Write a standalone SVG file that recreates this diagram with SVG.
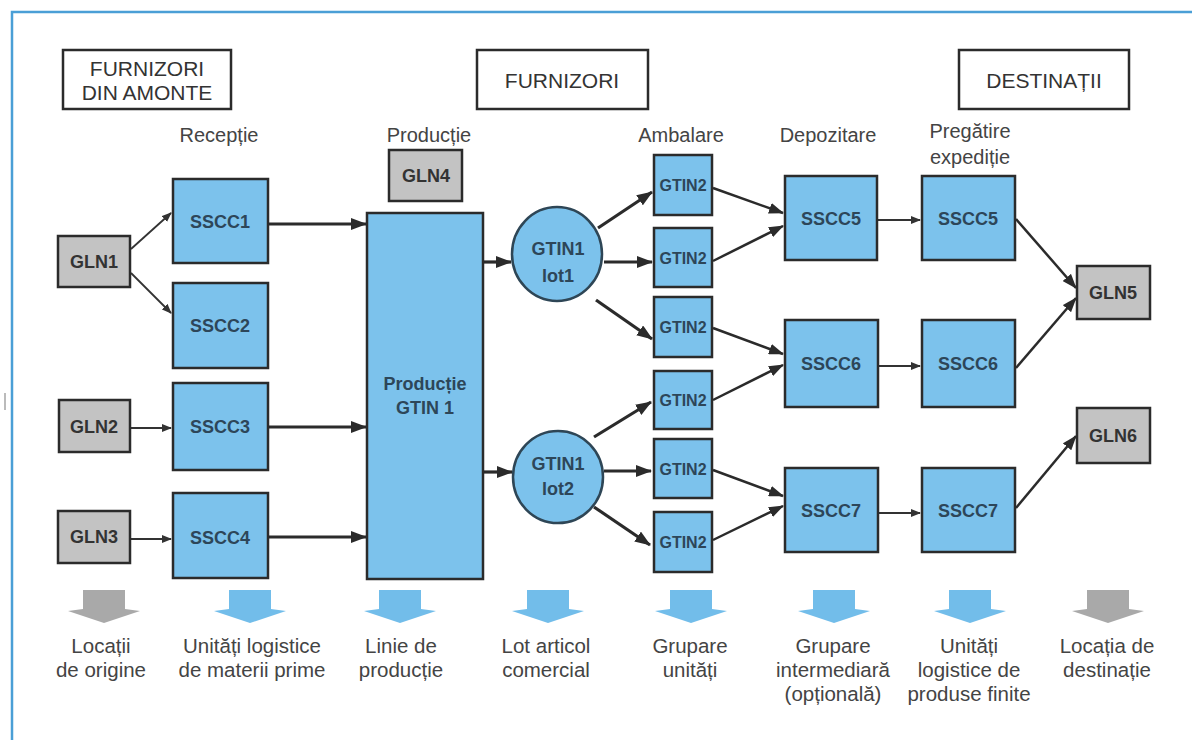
<svg xmlns="http://www.w3.org/2000/svg" width="1192" height="740" viewBox="0 0 1192 740">
<defs>
<style>
.hdr{fill:#fff;stroke:#2b2b2b;stroke-width:2.5}
.htxt{font-family:"Liberation Sans",Arial,sans-serif;font-size:21px;fill:#333;text-anchor:middle}
.stage{font-family:"Liberation Sans",Arial,sans-serif;font-size:20px;fill:#444;text-anchor:middle}
.blue{fill:#7cc2ec;stroke:#2b2b2b;stroke-width:2.5}
.gray{fill:#c3c3c3;stroke:#2b2b2b;stroke-width:2.5}
.circ{fill:#7cc2ec;stroke:#2e4656;stroke-width:2.5}
.ntxt{font-family:"Liberation Sans",Arial,sans-serif;font-size:18px;font-weight:bold;fill:#2d4659;text-anchor:middle}
.gtxt{font-family:"Liberation Sans",Arial,sans-serif;font-size:18px;font-weight:bold;fill:#333;text-anchor:middle}
.stxt{font-family:"Liberation Sans",Arial,sans-serif;font-size:16px;font-weight:bold;fill:#2d4659;text-anchor:middle}
.btxt{font-family:"Liberation Sans",Arial,sans-serif;font-size:20.5px;fill:#444;text-anchor:middle}
.thin{stroke:#333;stroke-width:1.8;fill:none;marker-end:url(#ahs)}
.thick{stroke:#2b2b2b;stroke-width:3.2;fill:none;marker-end:url(#ahl)}
.mid{stroke:#2b2b2b;stroke-width:2.5;fill:none;marker-end:url(#ahm)}
.barB{fill:#72bdea}
.barG{fill:#a9a9a9}
</style>
<marker id="ahl" markerUnits="userSpaceOnUse" markerWidth="16" markerHeight="12" refX="15" refY="6" orient="auto"><path d="M0,0 L16,6 L0,12 z" fill="#2b2b2b"/></marker>
<marker id="ahm" markerUnits="userSpaceOnUse" markerWidth="15" markerHeight="11" refX="14" refY="5.5" orient="auto"><path d="M0,0 L15,5.5 L0,11 z" fill="#2b2b2b"/></marker>
<marker id="ahs" markerUnits="userSpaceOnUse" markerWidth="10" markerHeight="8" refX="9" refY="4" orient="auto"><path d="M0,0 L10,4 L0,8 z" fill="#333"/></marker>
<path id="barShape" d="M-21,0 L21,0 L21,19 L36,21 L0,33 L-36,21 L-21,19 z"/>
</defs>

<rect x="0" y="0" width="1192" height="740" fill="#fff"/>
<path d="M12,740 L12,12 L1192,12" fill="none" stroke="#4a9fd6" stroke-width="2.5"/>
<line x1="5" y1="393" x2="5" y2="410" stroke="#bbb" stroke-width="2"/>

<g id="hdr-amonte"><rect class="hdr" x="63" y="50" width="168" height="59"/><text class="htxt" x="147" y="76">FURNIZORI</text><text class="htxt" x="147" y="100">DIN AMONTE</text></g>
<g id="hdr-furnizori"><rect class="hdr" x="477" y="50" width="171" height="59"/><text class="htxt" x="562" y="88">FURNIZORI</text></g>
<g id="hdr-destinatii"><rect class="hdr" x="959" y="50" width="170" height="59"/><text class="htxt" x="1044" y="88">DESTINAȚII</text></g>

<g id="stage-labels">
<text class="stage" x="219" y="142">Recepție</text>
<text class="stage" x="429" y="142">Producție</text>
<text class="stage" x="681" y="142">Ambalare</text>
<text class="stage" x="828" y="142">Depozitare</text>
<text class="stage" x="970" y="138">Pregătire</text>
<text class="stage" x="970" y="164">expediție</text>
</g>

<g id="connectors">
<path class="thin" d="M131,249 L171,213"/>
<path class="thin" d="M131,273 L171,313"/>
<path class="thin" d="M131,428 L171,428"/>
<path class="thin" d="M131,539 L171,539"/>
<path class="thin" d="M878,220 L920,220"/>
<path class="thin" d="M879,366 L920,366"/>
<path class="thin" d="M879,513 L920,513"/>
<path class="thick" d="M268,224 L366,224"/>
<path class="thick" d="M268,427 L366,427"/>
<path class="thick" d="M264,537 L366,537"/>
<path class="thick" d="M483,262 L511,262"/>
<path class="thick" d="M483,472 L512,472"/>
<path class="thick" d="M598,228 L652,192"/>
<path class="thick" d="M604,262 L652,262"/>
<path class="thick" d="M596,300 L652,339"/>
<path class="thick" d="M594,437 L651,402"/>
<path class="thick" d="M604,471 L651,471"/>
<path class="thick" d="M594,507 L650,545"/>
<path class="mid" d="M713,188 L783,213"/>
<path class="mid" d="M713,261 L783,226"/>
<path class="mid" d="M713,328 L783,354"/>
<path class="mid" d="M713,400 L783,365"/>
<path class="mid" d="M713,470 L783,496"/>
<path class="mid" d="M713,540 L783,506"/>
<path class="mid" d="M1016,219 L1076,288"/>
<path class="mid" d="M1016,368 L1076,298"/>
<path class="mid" d="M1016,508 L1076,436"/>
</g>

<g id="gln1"><rect class="gray" x="58" y="236" width="72" height="51"/><text class="gtxt" x="94" y="268">GLN1</text></g>
<g id="gln2"><rect class="gray" x="59" y="400" width="71" height="52"/><text class="gtxt" x="94" y="433">GLN2</text></g>
<g id="gln3"><rect class="gray" x="58" y="511" width="72" height="52"/><text class="gtxt" x="94" y="543">GLN3</text></g>
<g id="gln4"><rect class="gray" x="389" y="150" width="73" height="51"/><text class="gtxt" x="426" y="182">GLN4</text></g>
<g id="gln5"><rect class="gray" x="1077" y="266" width="73" height="53"/><text class="gtxt" x="1113" y="299">GLN5</text></g>
<g id="gln6"><rect class="gray" x="1077" y="408" width="73" height="55"/><text class="gtxt" x="1113" y="442">GLN6</text></g>

<g id="sscc1"><rect class="blue" x="173" y="179" width="95" height="84"/><text class="ntxt" x="220" y="228">SSCC1</text></g>
<g id="sscc2"><rect class="blue" x="173" y="283" width="95" height="85"/><text class="ntxt" x="220" y="332">SSCC2</text></g>
<g id="sscc3"><rect class="blue" x="173" y="383" width="95" height="87"/><text class="ntxt" x="220" y="433">SSCC3</text></g>
<g id="sscc4"><rect class="blue" x="173" y="493" width="95" height="85"/><text class="ntxt" x="220" y="544">SSCC4</text></g>

<g id="productie"><rect class="blue" x="367" y="213" width="116" height="366"/><text class="ntxt" x="425" y="390" font-size="19">Producție</text><text class="ntxt" x="425" y="414" font-size="19">GTIN 1</text></g>

<g id="lot1"><ellipse class="circ" cx="557" cy="254" rx="45" ry="47"/><text class="ntxt" x="558" y="255">GTIN1</text><text class="ntxt" x="558" y="282">lot1</text></g>
<g id="lot2"><ellipse class="circ" cx="558" cy="477" rx="45" ry="46"/><text class="ntxt" x="558" y="470">GTIN1</text><text class="ntxt" x="558" y="495">lot2</text></g>

<g id="gtin2-1"><rect class="blue" x="654" y="155" width="58" height="60"/><text class="stxt" x="683" y="191">GTIN2</text></g>
<g id="gtin2-2"><rect class="blue" x="654" y="228" width="58" height="59"/><text class="stxt" x="683" y="264">GTIN2</text></g>
<g id="gtin2-3"><rect class="blue" x="654" y="297" width="58" height="60"/><text class="stxt" x="683" y="333">GTIN2</text></g>
<g id="gtin2-4"><rect class="blue" x="654" y="371" width="58" height="58"/><text class="stxt" x="683" y="406">GTIN2</text></g>
<g id="gtin2-5"><rect class="blue" x="654" y="439" width="58" height="59"/><text class="stxt" x="683" y="475">GTIN2</text></g>
<g id="gtin2-6"><rect class="blue" x="654" y="512" width="58" height="60"/><text class="stxt" x="683" y="548">GTIN2</text></g>

<g id="sscc5a"><rect class="blue" x="785" y="176" width="92" height="84"/><text class="ntxt" x="831" y="225">SSCC5</text></g>
<g id="sscc6a"><rect class="blue" x="785" y="320" width="93" height="87"/><text class="ntxt" x="831" y="370">SSCC6</text></g>
<g id="sscc7a"><rect class="blue" x="785" y="468" width="93" height="84"/><text class="ntxt" x="831" y="517">SSCC7</text></g>
<g id="sscc5b"><rect class="blue" x="922" y="176" width="93" height="84"/><text class="ntxt" x="968" y="225">SSCC5</text></g>
<g id="sscc6b"><rect class="blue" x="922" y="320" width="93" height="87"/><text class="ntxt" x="968" y="370">SSCC6</text></g>
<g id="sscc7b"><rect class="blue" x="922" y="468" width="93" height="84"/><text class="ntxt" x="968" y="517">SSCC7</text></g>

<g id="legend">
<use href="#barShape" class="barG" transform="translate(104,590)"/>
<use href="#barShape" class="barB" transform="translate(250,590)"/>
<use href="#barShape" class="barB" transform="translate(400,590)"/>
<use href="#barShape" class="barB" transform="translate(548,590)"/>
<use href="#barShape" class="barB" transform="translate(691,590)"/>
<use href="#barShape" class="barB" transform="translate(834,590)"/>
<use href="#barShape" class="barB" transform="translate(970,590)"/>
<use href="#barShape" class="barG" transform="translate(1108,590)"/>
<text class="btxt" x="101" y="653">Locații</text><text class="btxt" x="101" y="677">de origine</text>
<text class="btxt" x="252" y="653">Unități logistice</text><text class="btxt" x="252" y="677">de materii prime</text>
<text class="btxt" x="401" y="653">Linie de</text><text class="btxt" x="401" y="677">producție</text>
<text class="btxt" x="546" y="653">Lot articol</text><text class="btxt" x="546" y="677">comercial</text>
<text class="btxt" x="690" y="653">Grupare</text><text class="btxt" x="690" y="677">unități</text>
<text class="btxt" x="833" y="653">Grupare</text><text class="btxt" x="833" y="677">intermediară</text><text class="btxt" x="833" y="701">(opțională)</text>
<text class="btxt" x="969" y="653">Unități</text><text class="btxt" x="969" y="677">logistice de</text><text class="btxt" x="969" y="701">produse finite</text>
<text class="btxt" x="1107" y="653">Locația de</text><text class="btxt" x="1107" y="677">destinație</text>
</g>
</svg>
